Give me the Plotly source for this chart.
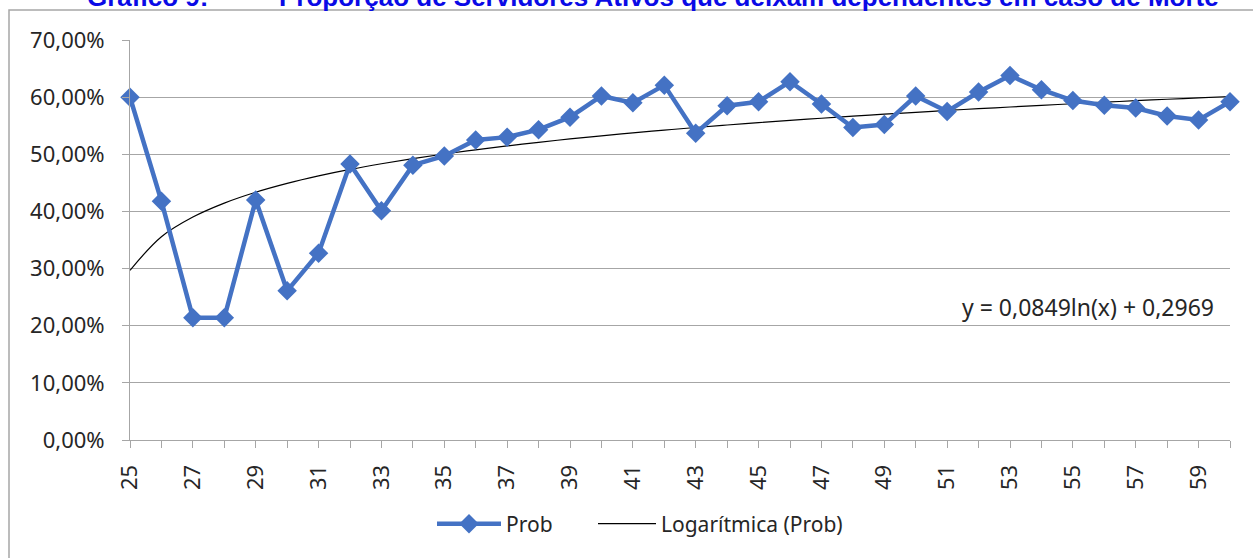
import numpy as np
import plotly.graph_objects as go

# ages (categories) and observed proportions
idade = list(range(25, 61))
prob = [0.600, 0.418, 0.214, 0.214, 0.420, 0.261, 0.327, 0.483, 0.401, 0.481,
        0.497, 0.525, 0.530, 0.543, 0.565, 0.602, 0.590, 0.621, 0.537, 0.585,
        0.592, 0.627, 0.588, 0.547, 0.552, 0.602, 0.575, 0.609, 0.638, 0.613,
        0.594, 0.586, 0.581, 0.567, 0.560, 0.592]

# excel logarithmic trendline, as printed on the chart
coef_a = 0.0849
coef_b = 0.2969
serie_idx = np.arange(1, len(idade) + 1)
tendencia = coef_a * np.log(serie_idx) + coef_b

font_name = "Noto Sans"
legend_font = dict(family=font_name, size=21, color='#262626')

fig = go.Figure()

fig.add_trace(go.Scatter(
    x=idade, y=tendencia,
    mode='lines',
    name='Logarítmica (Prob)',
    line=dict(color='black', width=1.2, shape='spline'),
    cliponaxis=False,
    legend='legend2',
))

fig.add_trace(go.Scatter(
    x=idade, y=prob,
    mode='lines+markers',
    name='Prob',
    line=dict(color='#4472C4', width=4.5),
    marker=dict(symbol='diamond', size=15, color='#4472C4'),
    cliponaxis=False,
    legend='legend',
))

fig.update_xaxes(
    range=[25, 60],
    tick0=25, dtick=2,
    tickangle=-90,
    showgrid=False,
    showline=True, linecolor='#A6A6A6', linewidth=1,
    ticks='outside', ticklen=7, tickcolor='#A6A6A6',
    minor=dict(dtick=1, ticks='outside', ticklen=7, tickcolor='#A6A6A6'),
    ticklabelstandoff=8,
    tickfont=dict(family=font_name, size=22, color='#262626'),
    zeroline=False,
)

fig.update_yaxes(
    range=[0, 0.7],
    dtick=0.1,
    tickformat='.2%',
    showgrid=True, gridcolor='#A6A6A6', gridwidth=1,
    showline=True, linecolor='#A6A6A6', linewidth=1,
    ticks='outside', ticklen=7, tickcolor='#A6A6A6',
    ticklabelstandoff=13,
    tickfont=dict(family=font_name, size=22, color='#262626'),
    zeroline=False,
)

# chart frame (partly outside the visible page, like the cropped original)
fig.add_shape(type='rect', xref='paper', yref='paper',
              x0=(9 - 130) / 1100, x1=1.05, y0=-0.4, y1=1 + 30 / 400,
              line=dict(color='#A6A6A6', width=1.5), layer='below')

# cropped caption above the frame
title_font = dict(family='Liberation Sans', size=26, color='#0A0AE6')
fig.add_annotation(text='<b>Gráfico 9:</b>', xref='paper', yref='paper',
                   x=(85 - 130) / 1100, y=1 + 26 / 400,
                   xanchor='left', yanchor='bottom', showarrow=False,
                   font=title_font)
fig.add_annotation(text='<b>Proporção de Servidores Ativos que deixam dependentes em caso de Morte</b>',
                   xref='paper', yref='paper',
                   x=(277 - 130) / 1100, y=1 + 26 / 400,
                   xanchor='left', yanchor='bottom', showarrow=False,
                   font=title_font)

fig.add_annotation(text='y = 0,0849ln(x) + 0,2969', xref='paper', yref='paper',
                   x=(1216 - 130) / 1100, y=(440 - 307) / 400,
                   xanchor='right', yanchor='middle', showarrow=False,
                   font=dict(family=font_name, size=23, color='#262626'))

fig.update_layout(
    width=1253, height=558,
    margin=dict(l=130, r=23, t=40, b=118),
    paper_bgcolor='#ffffff',
    plot_bgcolor='#ffffff',
    separators=',.',
    font=dict(family=font_name, size=22, color='#262626'),
    showlegend=True,
    legend=dict(orientation='h', x=(432 - 130) / 1100, xanchor='left',
                y=-0.21, yanchor='middle', itemwidth=64, font=legend_font),
    legend2=dict(orientation='h', x=(593 - 130) / 1100, xanchor='left',
                 y=-0.21, yanchor='middle', itemwidth=58, font=legend_font),
)

fig.write_html("out.html", config={'displayModeBar': False},
               post_script="document.body.style.margin='0px';")
